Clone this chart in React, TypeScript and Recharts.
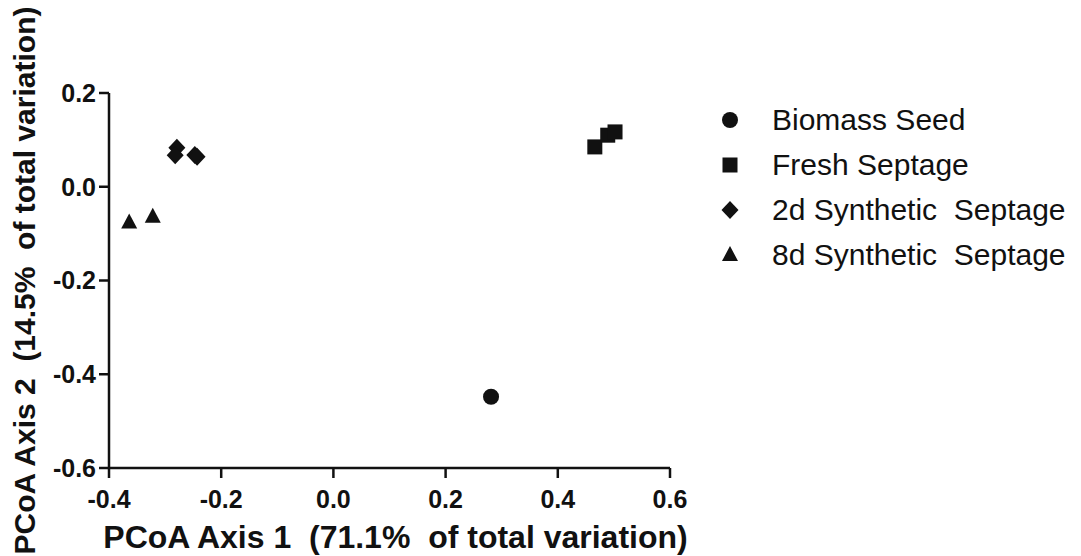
import { ScatterChart, Scatter, XAxis, YAxis, Label } from "recharts";

const seriesNames = ["Biomass Seed", "Fresh Septage", "2d Synthetic  Septage", "8d Synthetic  Septage"];

const biomassSeed = [{ x: 0.281, y: -0.448 }];
const freshSeptage = [
  { x: 0.466, y: 0.085 },
  { x: 0.489, y: 0.11 },
  { x: 0.502, y: 0.117 },
];
const synthetic2d = [
  { x: -0.279, y: 0.083 },
  { x: -0.282, y: 0.067 },
  { x: -0.247, y: 0.068 },
  { x: -0.243, y: 0.064 },
];
const synthetic8d = [
  { x: -0.364, y: -0.076 },
  { x: -0.322, y: -0.064 },
];

const xTicks = [-0.4, -0.2, 0.0, 0.2, 0.4, 0.6];
const yTicks = [-0.6, -0.4, -0.2, 0.0, 0.2];

// recharts Text collapses runs of spaces, so the second space is a nbsp
const xTitle = "PCoA Axis 1 \u00a0(71.1% \u00a0of total variation)";
const yTitle = "PCoA Axis 2 \u00a0(14.5% \u00a0of total variation)";

const INK = "#111";
const FONT = "'Liberation Sans', Arial, sans-serif";

type Kind = "circle" | "square" | "diamond" | "triangle";

function marker(kind: Kind, cx: number, cy: number) {
  switch (kind) {
    case "circle":
      return <circle cx={cx} cy={cy} r={8} fill={INK} />;
    case "square":
      return <rect x={cx - 7.5} y={cy - 7.5} width={15} height={15} fill={INK} />;
    case "diamond":
      return <path d={`M${cx},${cy - 9}L${cx + 8.5},${cy}L${cx},${cy + 9}L${cx - 8.5},${cy}Z`} fill={INK} />;
    default:
      return <path d={`M${cx},${cy - 9}L${cx + 8},${cy + 6}L${cx - 8},${cy + 6}Z`} fill={INK} />;
  }
}

const shapeOf = (kind: Kind) => (p: any) => marker(kind, p.cx, p.cy);

const kinds: Kind[] = ["circle", "square", "diamond", "triangle"];
const series = [biomassSeed, freshSeptage, synthetic2d, synthetic8d];

export default function App() {
  return (
    <div style={{ position: "relative", width: 1073, height: 548, fontFamily: FONT }}>
      <ScatterChart width={1073} height={548} margin={{ top: 85, right: 411, bottom: 0, left: 0 }}>
        <XAxis
          type="number"
          dataKey="x"
          domain={[-0.4, 0.6]}
          ticks={xTicks}
          tickFormatter={(v: number) => v.toFixed(1)}
          height={88}
          stroke={INK}
          strokeWidth={2.5}
          tickSize={10}
          tickMargin={12}
          tick={{ fill: INK, fontSize: 25, fontWeight: "bold", fontFamily: FONT }}
        >
          <Label
            value={xTitle}
            position="insideBottom"
            offset={8}
            dx={6}
            style={{ fill: INK, fontSize: 32, fontWeight: "bold", fontFamily: FONT }}
          />
        </XAxis>
        <YAxis
          type="number"
          dataKey="y"
          domain={[-0.6, 0.2]}
          ticks={yTicks}
          tickFormatter={(v: number) => v.toFixed(1)}
          width={101}
          stroke={INK}
          strokeWidth={2.5}
          tickSize={10}
          tickMargin={3}
          tick={{ fill: INK, fontSize: 25, fontWeight: "bold", fontFamily: FONT }}
        >
          <Label
            value={yTitle}
            position="insideLeft"
            angle={-90}
            offset={16}
            style={{ fill: INK, fontSize: 30, fontWeight: "bold", fontFamily: FONT, textAnchor: "middle" }}
          />
        </YAxis>
        {series.map((data, i) => (
          <Scatter
            key={seriesNames[i]}
            name={seriesNames[i]}
            data={data}
            shape={shapeOf(kinds[i])}
            isAnimationActive={false}
          />
        ))}
      </ScatterChart>
      <div style={{ position: "absolute", left: 712, top: 89 }}>
        {seriesNames.map((name, i) => (
          <div key={name} style={{ display: "flex", alignItems: "center", height: 45 }}>
            <svg width={20} height={20} style={{ marginRight: 32 }}>
              {marker(kinds[i], 10, 10)}
            </svg>
            <span style={{ fontSize: 30, color: INK, whiteSpace: "pre" }}>{name}</span>
          </div>
        ))}
      </div>
    </div>
  );
}
